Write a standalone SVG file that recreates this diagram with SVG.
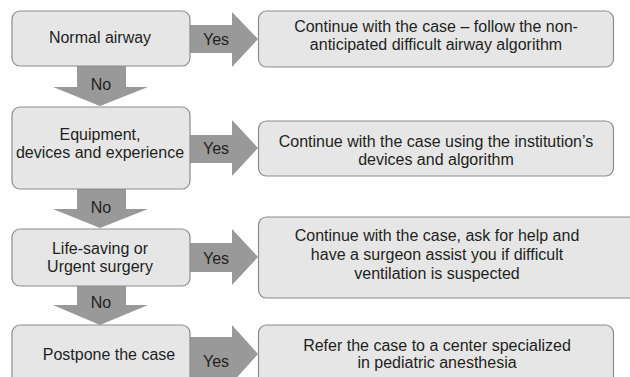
<svg xmlns="http://www.w3.org/2000/svg" width="630" height="377" viewBox="0 0 630 377">
<style>
.box{fill:#e6e6e7;stroke:#8c8c8c;stroke-width:1.2}
.arr{fill:#999999}
text{font-family:"Liberation Sans",Arial,sans-serif;font-size:16px;fill:#231f20;text-anchor:middle}
</style>
<rect width="630" height="377" fill="#ffffff"/>
<g id="connectors">
<g id="yes1"><polygon class="arr" points="190,25 232,25 232,12 258,39 232,67 232,53 190,53"/><text x="216" y="45">Yes</text></g>
<g id="no1"><polygon class="arr" points="77,66 126,66 126,87 148,87 100,106 53,87 77,87"/><text x="101" y="90">No</text></g>
<g id="yes2"><polygon class="arr" points="190,135 232,135 232,120 258,148 232,176 232,163 190,163"/><text x="216" y="154">Yes</text></g>
<g id="no2"><polygon class="arr" points="77,189 126,189 126,209 148,209 100,228 53,209 77,209"/><text x="101" y="213">No</text></g>
<g id="yes3"><polygon class="arr" points="190,243 232,243 232,229 258,257 232,285 232,272 190,272"/><text x="216" y="264">Yes</text></g>
<g id="no3"><polygon class="arr" points="77,286 126,286 126,305 148,305 100,325 53,305 77,305"/><text x="101" y="308">No</text></g>
<g id="yes4"><polygon class="arr" points="190,337 232,337 232,325 258,354 232,383 232,385 190,385"/><text x="216" y="367">Yes</text></g>
</g>
<g id="n1"><rect class="box" x="12" y="11" width="178" height="55" rx="8"/><text x="100" y="43">Normal airway</text></g>
<g id="r1"><rect class="box" x="258.5" y="11" width="355" height="56" rx="8"/><text x="436" y="32">Continue with the case – follow the non-</text><text x="436" y="50">anticipated difficult airway algorithm</text></g>
<g id="n2"><rect class="box" x="12" y="107" width="178" height="82" rx="8"/><text x="100" y="140">Equipment,</text><text x="100" y="158">devices and experience</text></g>
<g id="r2"><rect class="box" x="258.5" y="121" width="355" height="55" rx="8"/><text x="436" y="147">Continue with the case using the institution’s</text><text x="436" y="165">devices and algorithm</text></g>
<g id="n3"><rect class="box" x="12" y="229" width="178" height="57" rx="8"/><text x="100" y="254">Life-saving or</text><text x="100" y="272">Urgent surgery</text></g>
<g id="r3"><rect class="box" x="258.5" y="217" width="390" height="81" rx="8"/><text x="437" y="241">Continue with the case, ask for help and</text><text x="437" y="260">have a surgeon assist you if difficult</text><text x="437" y="279">ventilation is suspected</text></g>
<g id="n4"><rect class="box" x="12" y="325" width="178" height="70" rx="8"/><text x="109" y="360">Postpone the case</text></g>
<g id="r4"><rect class="box" x="258.5" y="325" width="355" height="70" rx="8"/><text x="437" y="351">Refer the case to a center specialized</text><text x="437" y="368">in pediatric anesthesia</text></g>
</svg>
